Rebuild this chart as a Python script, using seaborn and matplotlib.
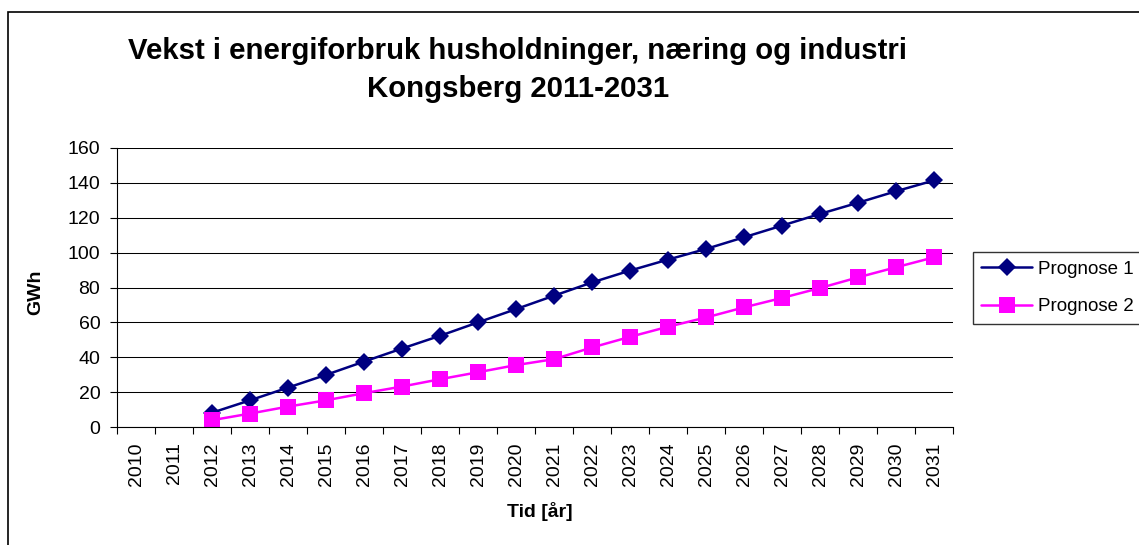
import numpy as np
import pandas as pd
import seaborn as sns
import matplotlib.pyplot as plt
from matplotlib.patches import Rectangle
from matplotlib.ticker import FixedLocator

# Data
years = list(range(2010, 2032))
forecast_years = list(range(2012, 2032))
prognose_1 = [8.2, 15.3, 22.6, 29.9, 37.5, 45.0, 52.3, 60.0, 67.6, 75.3,
              82.9, 89.7, 96.0, 102.1, 108.8, 115.5, 122.2, 128.6, 135.2, 141.4]
prognose_2 = [3.9, 7.7, 11.7, 15.3, 19.4, 23.2, 27.4, 31.4, 35.5, 38.9,
              45.6, 51.7, 57.5, 62.8, 68.6, 74.0, 79.7, 85.8, 91.6, 97.3]
series_names = ['Prognose 1', 'Prognose 2']

sns.set_style('white')
plt.rcParams['font.family'] = ['Liberation Sans', 'DejaVu Sans']
plt.rcParams['text.color'] = 'black'
plt.rcParams['axes.labelcolor'] = 'black'
plt.rcParams['xtick.color'] = 'black'
plt.rcParams['ytick.color'] = 'black'

df = pd.DataFrame({
    'year': forecast_years * 2,
    'GWh': prognose_1 + prognose_2,
    'serie': [series_names[0]] * len(prognose_1) + [series_names[1]] * len(prognose_2),
})
# category position (2010 -> 0)
df['pos'] = df['year'] - years[0]

fig = plt.figure(figsize=(11.39, 5.45), dpi=100)
ax = fig.add_axes([117 / 1139, 1 - 427 / 545, 836 / 1139, 279 / 545])

palette = {'Prognose 1': '#000080', 'Prognose 2': '#FF00FF'}
markers = {'Prognose 1': 'D', 'Prognose 2': 's'}
sns.lineplot(data=df, x='pos', y='GWh', hue='serie', style='serie',
             palette=palette, markers=markers, dashes=False, linewidth=1.8,
             markeredgewidth=0, ax=ax, legend=False)
# marker sizes differ per series
for line, ms in zip(ax.lines, [9.5, 11.5]):
    line.set_markersize(ms)

ax.set_xlim(-0.5, len(years) - 0.5)
ax.set_ylim(0, 160)
ax.set_yticks(np.arange(0, 161, 20))
ax.set_xticks(range(len(years)))
ax.set_xticklabels([str(y) for y in years], rotation=90)
ax.xaxis.set_minor_locator(FixedLocator(np.arange(-0.5, len(years), 1)))
ax.tick_params(axis='x', which='major', length=0, pad=11, labelsize=14)
ax.tick_params(axis='x', which='minor', length=5, width=0.8, color='black', direction='out', bottom=True)
ax.tick_params(axis='y', length=5, width=0.8, color='black', direction='out', pad=7, labelsize=14, left=True)

ax.yaxis.grid(True, color='black', linewidth=0.75)
ax.xaxis.grid(False)
for side in ['top', 'right']:
    ax.spines[side].set_visible(False)
for side in ['left', 'bottom']:
    ax.spines[side].set_color('black')
    ax.spines[side].set_linewidth(0.8)

ax.set_xlabel('Tid [år]', fontsize=14, fontweight='bold')
ax.set_ylabel('GWh', fontsize=14, fontweight='bold')
ax.xaxis.set_label_coords(0.506, -0.27)
ax.yaxis.set_label_coords(-0.087, 0.484)

fig.text(518 / 1139, 1 - 37 / 545,
         'Vekst i energiforbruk husholdninger, næring og industri\nKongsberg 2011-2031',
         ha='center', va='top', fontsize=21.2, fontweight='bold', linespacing=1.45)

handles = [plt.Line2D([], [], color=palette[n], marker=markers[n], linewidth=1.8,
                      markersize=ms, markeredgewidth=0)
           for n, ms in zip(series_names, [9.5, 11.5])]
leg = fig.legend(handles, series_names, loc='upper left',
                 bbox_to_anchor=(973 / 1139, 1 - 252 / 545), fontsize=13.5,
                 frameon=True, fancybox=False, shadow=False, edgecolor='black',
                 handlelength=2.7, handletextpad=0.3, borderpad=0.45, labelspacing=1.1,
                 borderaxespad=0)
leg.get_frame().set_linewidth(1.0)

# outer chart border (runs off the right and bottom edges)
fig.patches.append(Rectangle((8 / 1139, -0.1), 1.2, 1.1 - 12 / 545, transform=fig.transFigure,
                             fill=False, edgecolor='black', linewidth=1.2))

fig.savefig('out.png', dpi=100)
